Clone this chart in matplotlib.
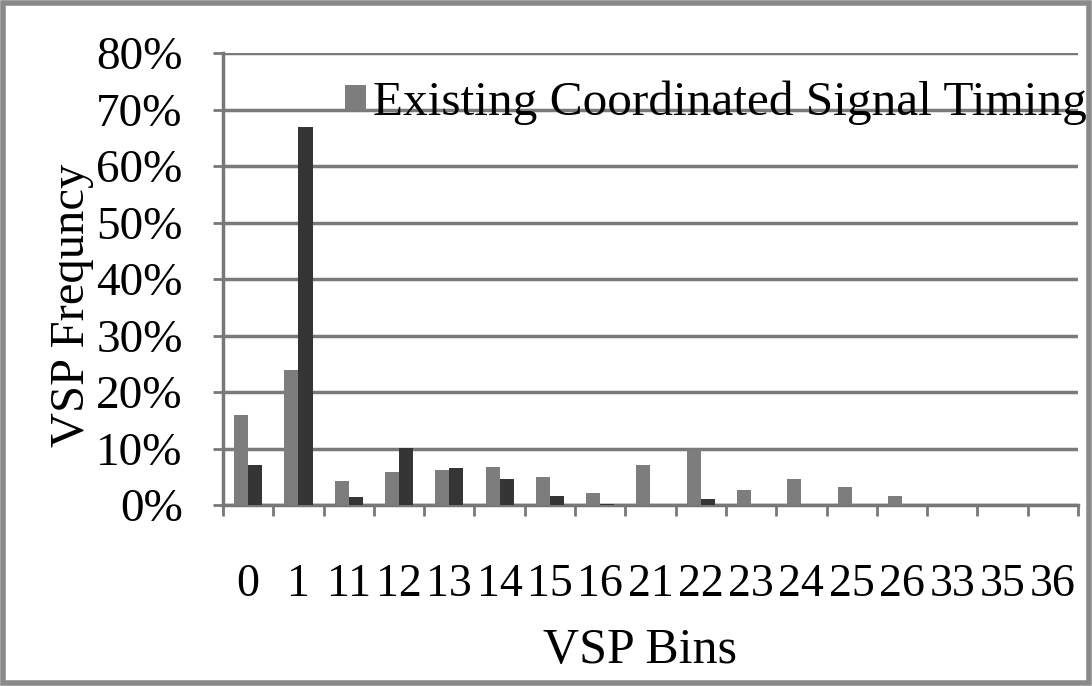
import matplotlib.pyplot as plt
import matplotlib.patches as mpatches
import numpy as np

# VSP bin labels and frequency share (%) per bin
bins = ['0', '1', '11', '12', '13', '14', '15', '16', '21', '22', '23', '24', '25', '26', '33', '35', '36']
existing = [16.0, 23.9, 4.3, 5.9, 6.2, 6.8, 4.9, 2.1, 7.0, 9.9, 2.7, 4.6, 3.1, 1.6, 0.0, 0.0, 0.0]
optimized = [7.1, 66.9, 1.5, 10.1, 6.6, 4.6, 1.6, 0.2, 0.0, 1.0, 0.0, 0.0, 0.0, 0.0, 0.0, 0.0, 0.0]

plt.rcParams['font.family'] = ['Liberation Serif', 'DejaVu Serif']

fig = plt.figure(figsize=(10.92, 6.86), dpi=100)
ax = fig.add_axes([223 / 1092, 1 - 505 / 686, (1078 - 223) / 1092, (505 - 53) / 686])

x = np.arange(len(bins)) + 0.5
w = 0.28
light = ax.bar(x - w / 2, existing, w, color='#7d7d7d', zorder=3,
               label='Existing Coordinated Signal Timing')
ax.bar(x + w / 2, optimized, w, color='#353535', zorder=3)

ax.set_xlim(0, len(bins))
ax.set_ylim(0, 80)
ax.set_yticks(range(0, 81, 10))
ax.set_yticklabels([f'{v}%' for v in range(0, 81, 10)], fontsize=34)
ax.yaxis.grid(True, color='#7a7a7a', linewidth=2.5, zorder=0)

# category boundaries carry the tick marks, centres carry the labels
ax.set_xticks(np.arange(len(bins) + 1))
ax.set_xticklabels([])
ax.set_xticks(x, minor=True)
ax.set_xticklabels(bins, minor=True, fontsize=33)
ax.tick_params(axis='x', which='major', length=8, width=2, color='#777777', direction='out')
ax.tick_params(axis='x', which='minor', length=0, pad=42)
ax.tick_params(axis='y', length=7, width=2, color='#777777', pad=22)

for s in ['top', 'right']:
    ax.spines[s].set_visible(False)
for s in ['left', 'bottom']:
    ax.spines[s].set_color('#777777')
    ax.spines[s].set_linewidth(2.5)

ax.set_xlabel('VSP Bins', fontsize=36)
ax.xaxis.set_label_coords((640 - 223) / 855, -(628 - 505) / 452)
ax.set_ylabel('VSP Frequncy', fontsize=35)
ax.yaxis.set_label_coords(-(223 - 94) / 855, (505 - 305) / 452)

fig.legend(handles=[light], loc='center left', bbox_to_anchor=(345 / 1092, 1 - 103 / 686),
           frameon=False, fontsize=35.5, handlelength=0.42, handleheight=0.42,
           handletextpad=0.15, borderpad=0, borderaxespad=0)

# outer frame around the whole chart
fig.patches.append(mpatches.Rectangle((0.003, 0.004), 0.994, 0.992, transform=fig.transFigure,
                                      fill=False, edgecolor='#8a8a8a', linewidth=4))

fig.savefig('out.png', dpi=100)
